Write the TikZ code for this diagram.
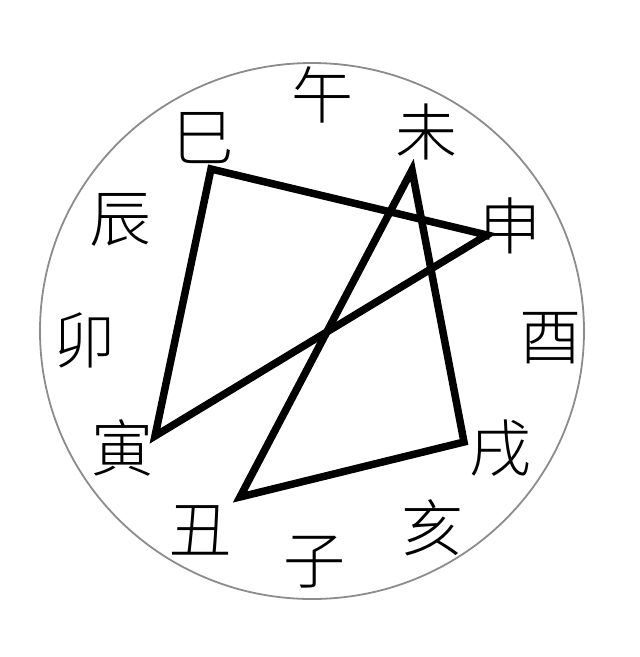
\documentclass[tikz,border=0pt]{standalone}
\usepackage{fontspec}
\newfontfamily\cjk{Noto Sans CJK SC Light}
\begin{document}
\begin{tikzpicture}[x=1pt,y=-1pt,
  lbl/.style={font=\cjk\fontsize{62}{62}\selectfont, inner sep=0pt, text=black},
  tri/.style={line width=7.5pt, line join=miter, draw=black},
  rim/.style={draw=black!45, line width=1.8pt}]
\useasboundingbox (0,0) rectangle (640,657);
\fill[white] (0,0) rectangle (640,657);
\draw[rim] (312,331) ellipse [x radius=272, y radius=268];
% labels
\node[lbl] (wu) at (322,95) {午};
\node[lbl] (wei) at (426,132) {未};
\node[lbl] (si) at (203,138) {巳};
\node[lbl] (shen) at (510,226) {申};
\node[lbl] (chen) at (120,220) {辰};
\node[lbl] (mao) at (84,340) {卯};
\node[lbl] (you) at (550,338) {酉};
\node[lbl] (yin) at (122,448) {寅};
\node[lbl] (xu) at (500,448) {戌};
\node[lbl] (chou) at (200,530) {丑};
\node[lbl] (zi) at (314,562) {子};
\node[lbl] (hai) at (432,528) {亥};
% triangle vertices
\coordinate (vsi) at (211,169);
\coordinate (vshen) at (487,235);
\coordinate (vyin) at (155,436);
\coordinate (vwei) at (412,170);
\coordinate (vxu) at (464,442);
\coordinate (vchou) at (240,497);
\draw[tri] (vsi) -- (vshen) -- (vyin) -- cycle;
\draw[tri] (vwei) -- (vxu) -- (vchou) -- cycle;
\end{tikzpicture}
\end{document}
